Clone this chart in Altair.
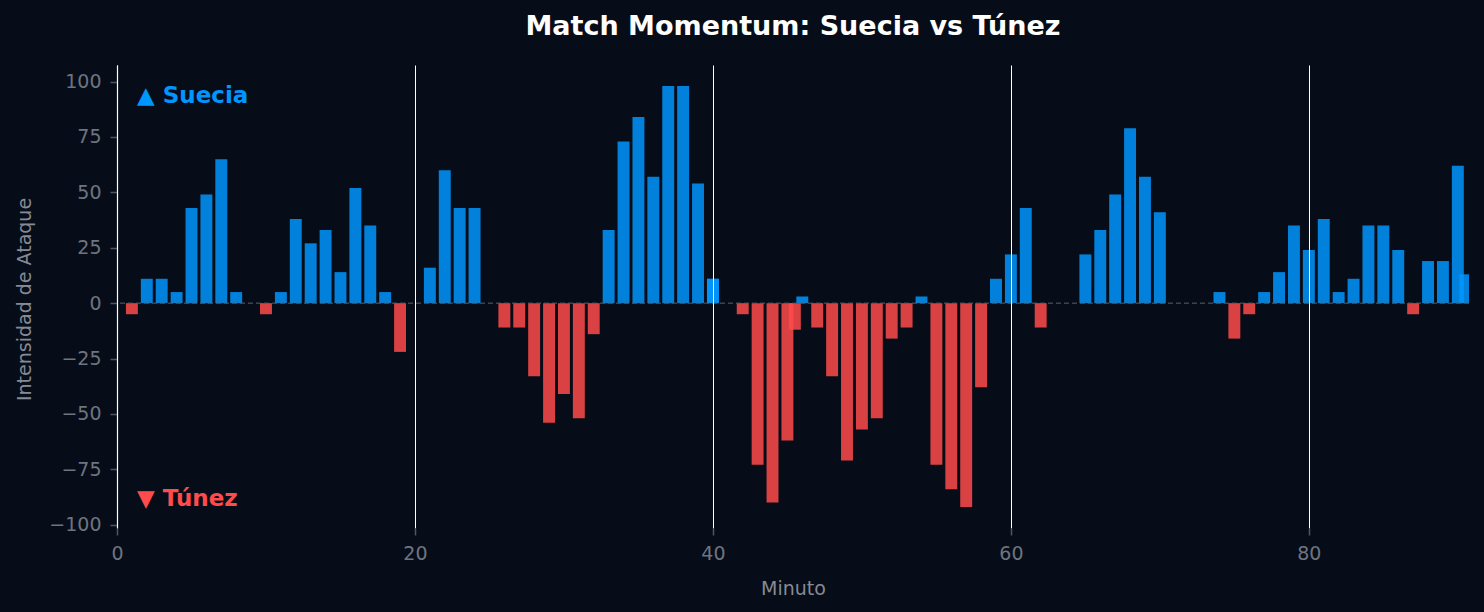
import importlib

import altair as alt
import pandas as pd

# momentum per minute (positive = Suecia, negative = Túnez)
minutes = list(range(1, 91))
momentum = [
    -5, 11, 11, 5, 43, 49, 65, 5, 0, -5,
    5, 38, 27, 33, 14, 52, 35, 5, -22, 0,
    16, 60, 43, 43, 0, -11, -11, -33, -54, -41,
    -52, -14, 33, 73, 84, 57, 98, 98, 54, 11,
    0, -5, -73, -90, -62, 3, -11, -33, -71, -57,
    -52, -16, -11, 3, -73, -84, -92, -38, 11, 22,
    43, -11, 0, 0, 22, 33, 49, 79, 57, 41,
    0, 0, 0, 5, -16, -5, 5, 14, 35, 24,
    38, 5, 11, 35, 35, 24, -5, 19, 19, 62,
]
# extra entries (added time / repeated minute), drawn over the others
extra_minutes = [40, 45.5, 90.5]
extra_momentum = [11, -12, 13]

teams = ["Suecia", "Túnez"]
team_colors = ["#0096FF", "#FF4B4B"]
x_ticks = [0, 20, 40, 60, 80]
y_ticks = [-100, -75, -50, -25, 0, 25, 50, 75, 100]

label_text = ["▲ Suecia", "▼ Túnez"]
label_x = [1.35, 1.35]
label_y = [93.5, -88.5]

bg = "#070D18"
tick_grey = "#6E7480"
title_grey = "#858A94"


# dark page behind the chart too (the 8px body margin)
def _with_dark_body(fn):
    def wrapped(*args, **kwargs):
        html = fn(*args, **kwargs)
        return html.replace("<head>", "<head><style>body{background:%s;}</style>" % bg, 1)
    return wrapped


for mod_name in ("altair.utils.mimebundle", "altair.utils.save"):
    try:
        mod = importlib.import_module(mod_name)
    except ImportError:
        continue
    if hasattr(mod, "spec_to_html"):
        mod.spec_to_html = _with_dark_body(mod.spec_to_html)

df = pd.DataFrame({"minuto": minutes + extra_minutes, "valor": momentum + extra_momentum})
df["equipo"] = [teams[0] if v >= 0 else teams[1] for v in df["valor"]]

x_scale = alt.Scale(domain=[0, 90.75], nice=False, zero=False)
y_scale = alt.Scale(domain=[-101.5, 107.5], nice=False)
color_scale = alt.Scale(domain=teams, range=team_colors)

x_axis = alt.Axis(
    values=x_ticks,
    grid=True,
    gridColor="white",
    gridWidth=1,
    domain=False,
    tickColor="#4F5561",
    tickSize=7,
    tickWidth=1.5,
    labelColor=tick_grey,
    labelFontSize=19,
    labelPadding=9,
    labelFlush=False,
    titleColor=title_grey,
    titleFontSize=19,
    titleFontWeight="normal",
    titleX=676,
    titleY=60,
    titleBaseline="middle",
    zindex=1,
)
y_axis = alt.Axis(
    values=y_ticks,
    grid=False,
    domainColor="white",
    domainWidth=1.2,
    tickColor="#4F5561",
    tickSize=7,
    tickWidth=1.5,
    labelColor=tick_grey,
    labelFontSize=19,
    labelPadding=9,
    labelExpr="replace(datum.label, '-', '−')",
    titleColor=title_grey,
    titleFontSize=19,
    titleFontWeight="normal",
    titleX=-93,
    titleY=234,
    titleAlign="center",
    titleBaseline="middle",
)

bars = (
    alt.Chart(df)
    .transform_calculate(x0="datum.minuto - 0.4", x1="datum.minuto + 0.4")
    .mark_bar(opacity=0.85, clip=True)
    .encode(
        x=alt.X("x0:Q", scale=x_scale, title="Minuto", axis=x_axis),
        x2="x1:Q",
        y=alt.Y("valor:Q", scale=y_scale, title="Intensidad de Ataque", axis=y_axis),
        y2=alt.datum(0),
        color=alt.Color("equipo:N", scale=color_scale, legend=None),
    )
)

zero_line = (
    alt.Chart(pd.DataFrame({"valor": [0]}))
    .mark_rule(color="#5A5F6A", strokeWidth=1, strokeDash=[5, 3])
    .encode(y=alt.Y("valor:Q", scale=y_scale, title="Intensidad de Ataque"))
)

labels = (
    alt.Chart(pd.DataFrame({"texto": label_text, "x0": label_x, "valor": label_y, "equipo": teams}))
    .mark_text(align="left", baseline="middle", fontSize=23, fontWeight="bold")
    .encode(
        x=alt.X("x0:Q", scale=x_scale, title="Minuto"),
        y=alt.Y("valor:Q", scale=y_scale, title="Intensidad de Ataque"),
        text="texto:N",
        color=alt.Color("equipo:N", scale=color_scale, legend=None),
    )
)

chart = (
    alt.layer(bars, zero_line, labels)
    .properties(
        width=1352,
        height=463,
        title=alt.Title(
            "Match Momentum: Suecia vs Túnez",
            fontSize=27,
            fontWeight="bold",
            color="white",
            anchor="middle",
            baseline="alphabetic",
            offset=3,
        ),
        background=bg,
        autosize=alt.AutoSizeParams(type="none"),
        padding={"left": 109, "top": 57, "right": 7, "bottom": 72},
    )
    .configure(font="DejaVu Sans")
    .configure_view(stroke=None)
)

chart.save("out.html", embed_options={"renderer": "svg", "actions": False})
